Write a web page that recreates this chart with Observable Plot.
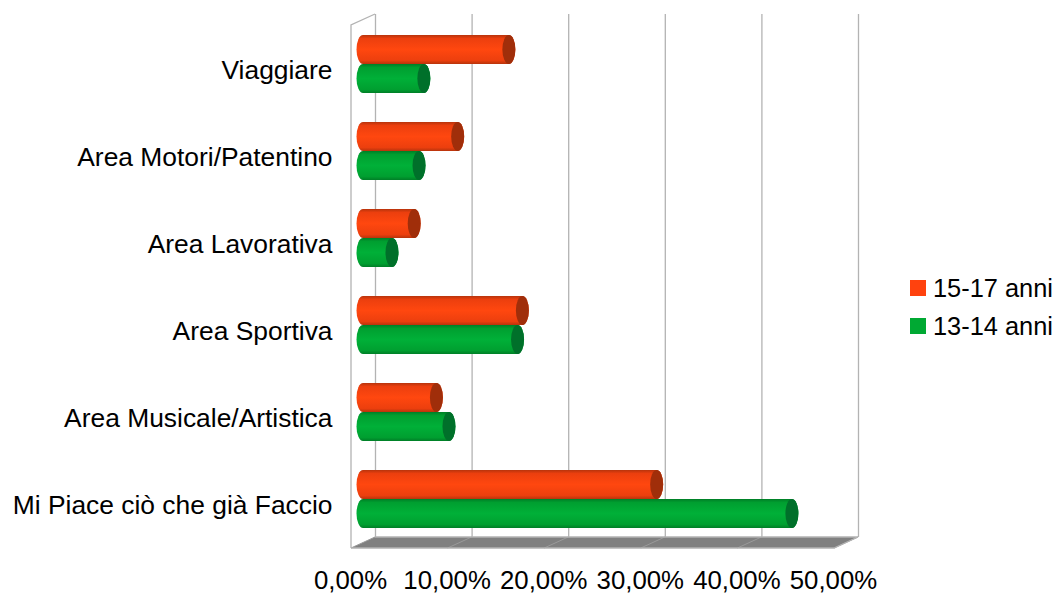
<!DOCTYPE html>
<html><head><meta charset="utf-8">
<script src="https://cdn.jsdelivr.net/npm/d3@7"></script>
<script src="https://cdn.jsdelivr.net/npm/@observablehq/plot@0.6"></script>
<style>
html,body{margin:0;padding:0;background:#fff;overflow:hidden}
#c{position:relative;width:1056px;height:594px;font-family:"Liberation Sans",sans-serif}
svg{display:block}
#lg{position:absolute;left:910px;top:269px;font-size:25.4px;color:#000}
#lg div{display:flex;align-items:center;height:38px}
#lg i{display:block;width:16px;height:16px;margin-right:7px}
</style></head><body><div id="c"></div>
<script>
const categories = ["Viaggiare","Area Motori/Patentino","Area Lavorativa","Area Sportiva","Area Musicale/Artistica","Mi Piace ciò che già Faccio"];
const series = ["15-17 anni","13-14 anni"];
const values1517 = [15.1,9.8,5.3,16.5,7.6,30.4];
const values1314 = [6.3,5.8,3.0,16.0,8.9,44.4];
const xTicks = [0,10,20,30,40,50];
const colors = ["#ff420e","#00a933"];

const rows = v => categories.map((c,i)=>({c,v:v[i]}));
const fmt = d => d.toFixed(2).replace(".",",")+"%";
const depthX = 24, depthY = 11;

function defs(){
  const g = d3.create("svg:g");
  g.html(`<defs>
  <linearGradient id="gr" x1="0" y1="0" x2="0" y2="1"><stop offset="0" stop-color="#b9340c"/><stop offset=".12" stop-color="#ec3f0e"/><stop offset=".5" stop-color="#ff470f"/><stop offset=".88" stop-color="#ec3f0e"/><stop offset="1" stop-color="#b9340c"/></linearGradient>
  <linearGradient id="gg" x1="0" y1="0" x2="0" y2="1"><stop offset="0" stop-color="#007f27"/><stop offset=".12" stop-color="#009f30"/><stop offset=".5" stop-color="#00b038"/><stop offset=".88" stop-color="#009f30"/><stop offset="1" stop-color="#007f27"/></linearGradient>
  </defs>`);
  return g.node();
}
function frame(index,{x},channels,dims){
  const t=dims.marginTop, b=dims.height-dims.marginBottom, x0=x(0), x1=x(50);
  const g=d3.create("svg:g").attr("fill","none");
  g.append("path").attr("d",`M${x0},${b}L${x0+depthX},${b-depthY}L${x1+depthX},${b-depthY}L${x1},${b}Z`).attr("fill","#808080");
  xTicks.forEach(k=>g.append("path").attr("d",`M${x(k)},${b}L${x(k)+depthX},${b-depthY}`).attr("stroke","#9a9a9a"));
  g.append("path").attr("d",`M${x0},${b}L${x1},${b}L${x1+depthX},${b-depthY}L${x0+depthX},${b-depthY}`).attr("stroke","#b3b3b3").attr("stroke-width",1.3);
  g.append("path").attr("d",`M${x0},${b}L${x0},${t}L${x0+depthX},${t-depthY}`).attr("stroke","#b3b3b3").attr("stroke-width",1.3);
  return g.node();
}
const cylinder = (data,fillUrl,capFill,top,bottom) => {
  const common = {y:"c",dx:12,dy:-5.5,insetTop:top,insetBottom:bottom,insetLeft:-6.5,insetRight:-6.5};
  return [
    Plot.barX(data,{...common,x1:()=>0,x2:"v",fill:fillUrl,rx:6.5,ry:14.5}),
    Plot.barX(data,{...common,x1:"v",x2:"v",fill:capFill,rx:6.5,ry:14.5})
  ];
};
const chart = Plot.plot({
  width:1056,height:594,
  marginLeft:351,marginRight:222,marginTop:25,marginBottom:46,
  style:{fontFamily:"Liberation Sans",background:"#fff",color:"#000"},
  x:{domain:[0,50]},
  y:{domain:categories,padding:0},
  marks:[
    defs,
    frame,
    Plot.ruleX(xTicks,{x:d=>d,dx:depthX,dy:-depthY,stroke:"#b3b3b3",strokeWidth:1.3,strokeOpacity:1}),
    ...cylinder(rows(values1517),"url(#gr)","#a02e0a",14.6,43.6),
    ...cylinder(rows(values1314),"url(#gg)","#00702a",43.6,14.6),
    Plot.axisX({ticks:xTicks,tickSize:0,tickPadding:22,tickFormat:fmt,fontSize:25.8,label:null,fill:"#000",dx:-1}),
    Plot.axisY({tickSize:0,tickPadding:19,fontSize:26.4,label:null,dy:0.5,fill:"#000"})
  ]
});
const c=document.getElementById("c");
c.appendChild(chart);
const lg=document.createElement("div");lg.id="lg";
series.forEach((s,i)=>{const r=document.createElement("div");const k=document.createElement("i");k.style.background=colors[i];r.appendChild(k);r.appendChild(document.createTextNode(s));lg.appendChild(r);});
c.appendChild(lg);
</script></body></html>
